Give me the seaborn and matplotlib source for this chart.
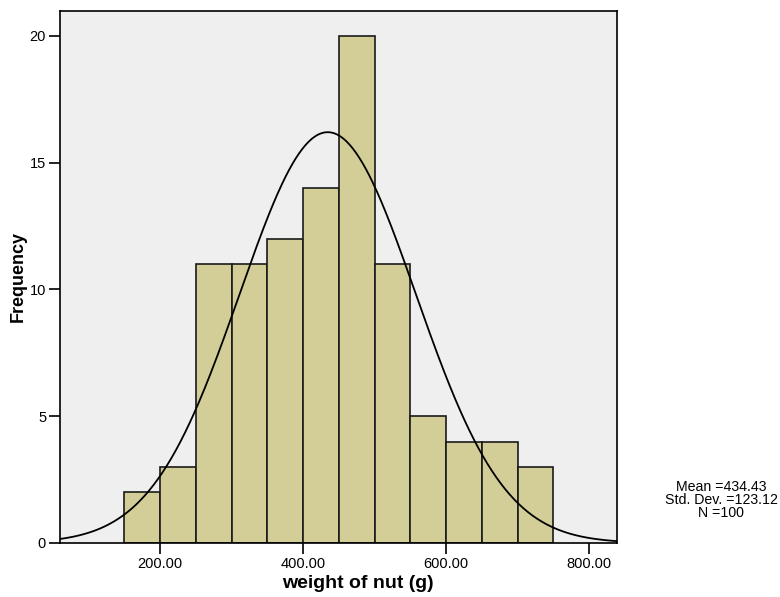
import numpy as np
import matplotlib
matplotlib.use("Agg")
import matplotlib.pyplot as plt
import seaborn as sns

bin_edges = [150, 200, 250, 300, 350, 400, 450, 500, 550, 600, 650, 700, 750]
counts = [2, 3, 11, 11, 12, 14, 20, 11, 5, 4, 4, 3]
mean_val = 434.43
sd_val = 123.12
n_val = 100
x_ticks = [200, 400, 600, 800]
x_tick_labels = ["200.00", "400.00", "600.00", "800.00"]
y_ticks = [0, 5, 10, 15, 20]

sns.set_style("white")
plt.rcParams['font.family'] = ['Liberation Sans', 'DejaVu Sans']
plt.rcParams['text.color'] = 'black'
plt.rcParams['axes.labelcolor'] = 'black'
plt.rcParams['xtick.color'] = 'black'
plt.rcParams['ytick.color'] = 'black'

fig = plt.figure(figsize=(7.8, 5.97), dpi=100)
ax = fig.add_axes([60/780, 54/597, (617-60)/780, (543-10.5)/597])
ax.set_facecolor("#EFEFEF")

centers = [(bin_edges[i] + bin_edges[i+1]) / 2 for i in range(len(counts))]
sns.histplot(x=centers, weights=counts, bins=bin_edges, ax=ax,
             color="#D3CE97", alpha=1.0, edgecolor="#1a1a1a", linewidth=1.2)

binw = bin_edges[1] - bin_edges[0]
xs = np.linspace(60, 839, 500)
ys = n_val * binw / (sd_val * np.sqrt(2 * np.pi)) * np.exp(-0.5 * ((xs - mean_val) / sd_val) ** 2)
sns.lineplot(x=xs, y=ys, ax=ax, color="black", linewidth=1.3)

ax.set_xlim(60, 839)
ax.set_ylim(0, 21)
ax.set_xticks(x_ticks)
ax.set_xticklabels(x_tick_labels)
ax.set_yticks(y_ticks)
ax.tick_params(axis='both', which='major', bottom=True, left=True, direction='out',
               length=8, width=1.2, labelsize=10.5, color='black', labelcolor='black', pad=2)
for s in ax.spines.values():
    s.set_color("black")
    s.set_linewidth(1.2)
ax.set_xlabel("weight of nut (g)", fontsize=14, fontweight='bold', color='black')
ax.set_ylabel("Frequency", fontsize=13, fontweight='bold', color='black')
ax.xaxis.set_label_coords((358 - 60) / 557, -(583 - 543) / 532.5)
ax.xaxis.label.set_verticalalignment('center')
ax.yaxis.set_label_coords((18 - 60) / 557, (543 - 276) / 532.5)
ax.yaxis.label.set_verticalalignment('center')

fig.text(721/780, 1 - 500/597, f"Mean ={mean_val:.2f}\nStd. Dev. ={sd_val:.2f}\nN ={n_val}",
         ha='center', va='center', fontsize=10.2, linespacing=0.92, color='black')

fig.savefig("out.png", dpi=100)
